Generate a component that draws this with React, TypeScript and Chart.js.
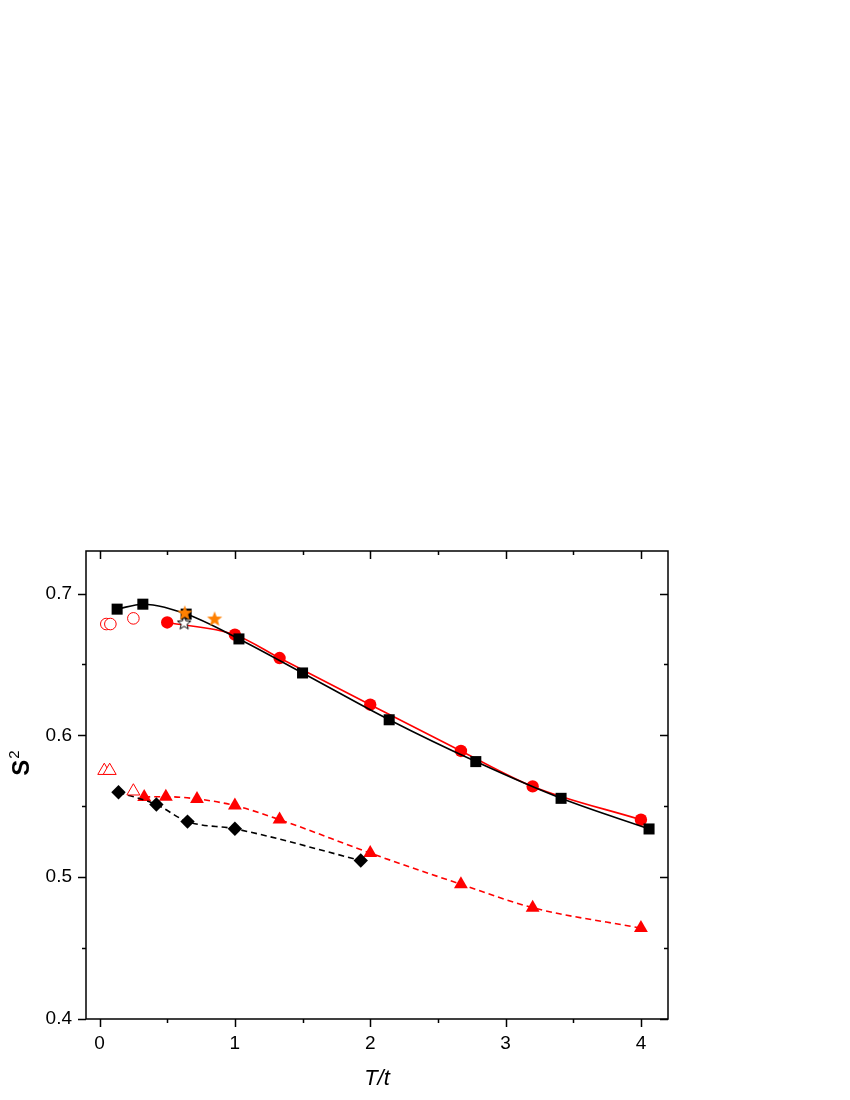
import React, { useEffect, useRef } from 'react';
import { Chart, registerables } from 'chart.js';
Chart.register(...registerables);

// ---- data ----
const squareX = [0.13, 0.32, 0.64, 1.03, 1.5, 2.14, 2.78, 3.41, 4.06];
const squareY = [0.689, 0.6925, 0.6855, 0.668, 0.644, 0.611, 0.5815, 0.5556, 0.534];
const circleX = [0.5, 1.0, 1.33, 2.0, 2.67, 3.2, 4.0];
const circleY = [0.6796, 0.671, 0.6545, 0.6216, 0.589, 0.564, 0.5405];
const openCircleX = [0.05, 0.08, 0.25];
const openCircleY = [0.6785, 0.6785, 0.6825];
const starX = [0.63, 0.85];
const starY = [0.6866, 0.6824];
const openStarX = [0.625];
const openStarY = [0.6796];
const triX = [0.33, 0.49, 0.72, 1.0, 1.33, 2.0, 2.67, 3.2, 4.0];
const triY = [0.5565, 0.5568, 0.5552, 0.5505, 0.5406, 0.517, 0.495, 0.4785, 0.4641];
const openTriX = [0.035, 0.075, 0.25];
const openTriY = [0.5751, 0.5751, 0.5606];
const diamondX = [0.14, 0.42, 0.65, 1.0, 1.93];
const diamondY = [0.5599, 0.5512, 0.5392, 0.5341, 0.5118];

const xTickLabels = ['0', '1', '2', '3', '4'];
const yTickLabels = ['0.4', '0.5', '0.6', '0.7'];
const xMin = -0.1;
const xMax = 4.2;
const yMin = 0.4;
const yMax = 0.73;
const yTitleMain = 'S';
const yTitleSup = '2';

const FONT = "'Liberation Sans', Arial, sans-serif";

const pts = (xs: number[], ys: number[]) => xs.map((x, i) => ({ x, y: ys[i] }));

function makeStar(fill: string, stroke: string, outer: number, inner: number) {
  const size = Math.ceil(outer * 2 + 4);
  const c = document.createElement('canvas');
  c.width = size;
  c.height = size;
  const g = c.getContext('2d')!;
  const cx = size / 2;
  const cy = size / 2 + 0.8;
  g.beginPath();
  for (let i = 0; i < 10; i++) {
    const r = i % 2 === 0 ? outer : inner;
    const a = -Math.PI / 2 + (i * Math.PI) / 5;
    const px = cx + r * Math.cos(a);
    const py = cy + r * Math.sin(a);
    if (i === 0) g.moveTo(px, py);
    else g.lineTo(px, py);
  }
  g.closePath();
  g.fillStyle = fill;
  g.fill();
  if (stroke) {
    g.strokeStyle = stroke;
    g.lineWidth = 1;
    g.stroke();
  }
  return c;
}

const isXLabel = (v: number) => xTickLabels.includes(String(v));
const yStr = (v: number) => String(Math.round(v * 100) / 100);
const isYLabel = (v: number) => yTickLabels.includes(yStr(v));

const framePlugin = {
  id: 'frameTicks',
  afterDraw(chart: any) {
    const { ctx, chartArea: a, scales } = chart;
    const x = scales.x;
    const y = scales.y;
    ctx.save();
    ctx.strokeStyle = '#000';
    ctx.lineWidth = 1.5;
    ctx.strokeRect(a.left, a.top, a.right - a.left, a.bottom - a.top);
    ctx.beginPath();
    x.ticks.forEach((t: any) => {
      const px = Math.round(x.getPixelForValue(t.value)) + 0.5;
      const len = isXLabel(t.value) ? 8 : 4;
      ctx.moveTo(px, a.bottom);
      ctx.lineTo(px, a.bottom + len);
      ctx.moveTo(px, a.top);
      ctx.lineTo(px, a.top + len);
    });
    y.ticks.forEach((t: any) => {
      const py = Math.round(y.getPixelForValue(t.value)) + 0.5;
      const len = isYLabel(t.value) ? 8 : 4;
      ctx.moveTo(a.left, py);
      ctx.lineTo(a.left - len, py);
      ctx.moveTo(a.right, py);
      ctx.lineTo(a.right - len, py);
    });
    ctx.stroke();

    // y-axis title "S" with superscript "2", rotated
    const cy = (a.top + a.bottom) / 2 - 22;
    ctx.translate(29, cy);
    ctx.rotate(-Math.PI / 2);
    ctx.fillStyle = '#000';
    ctx.textBaseline = 'alphabetic';
    ctx.textAlign = 'left';
    ctx.font = `bold 24px ${FONT}`;
    const wS = ctx.measureText(yTitleMain).width;
    ctx.font = `15px ${FONT}`;
    const w2 = ctx.measureText(yTitleSup).width;
    const start = -(wS + w2 + 1) / 2;
    ctx.font = `bold 24px ${FONT}`;
    ctx.fillText(yTitleMain, start, 0);
    ctx.font = `15px ${FONT}`;
    ctx.fillText(yTitleSup, start + wS + 1, -10);
    ctx.restore();
  },
};

export default function App() {
  const ref = useRef<HTMLCanvasElement>(null);

  useEffect(() => {
    if (!ref.current) return;
    const orangeStar = makeStar('#FF8000', '', 8, 3.4);
    const openStar = makeStar('#FFFFFF', '#000000', 7, 3);

    const chart = new Chart(ref.current, {
      type: 'scatter',
      data: {
        datasets: [
          {
            data: pts(starX, starY),
            pointStyle: orangeStar as any,
            showLine: false,
            order: 0,
          },
          {
            data: pts(openStarX, openStarY),
            pointStyle: openStar as any,
            showLine: false,
            order: 0,
          },
          {
            data: pts(squareX, squareY),
            showLine: true,
            borderColor: '#000',
            borderWidth: 1.6,
            cubicInterpolationMode: 'monotone',
            pointStyle: 'rect',
            pointRadius: 7.8,
            pointBackgroundColor: '#000',
            pointBorderColor: '#000',
            pointBorderWidth: 0,
            order: 1,
          },
          {
            data: pts(circleX, circleY),
            showLine: true,
            borderColor: '#FF0000',
            borderWidth: 1.6,
            cubicInterpolationMode: 'monotone',
            pointStyle: 'circle',
            pointRadius: 6.2,
            pointBackgroundColor: '#FF0000',
            pointBorderColor: '#FF0000',
            pointBorderWidth: 0,
            order: 2,
          },
          {
            data: pts(openCircleX, openCircleY),
            showLine: false,
            pointStyle: 'circle',
            pointRadius: 5.8,
            pointBackgroundColor: '#FFFFFF',
            pointBorderColor: '#FF0000',
            pointBorderWidth: 1,
            order: 2,
          },
          {
            data: pts(openTriX, openTriY),
            showLine: false,
            pointStyle: 'triangle',
            pointRadius: 7.5,
            pointBackgroundColor: '#FFFFFF',
            pointBorderColor: '#FF0000',
            pointBorderWidth: 1,
            order: 3,
          },
          {
            data: pts(diamondX, diamondY),
            showLine: true,
            borderColor: '#000',
            borderWidth: 1.6,
            borderDash: [6, 4],
            cubicInterpolationMode: 'monotone',
            pointStyle: 'rectRot',
            pointRadius: 7.2,
            pointBackgroundColor: '#000',
            pointBorderColor: '#000',
            pointBorderWidth: 0,
            order: 4,
          },
          {
            data: pts(triX, triY),
            showLine: true,
            borderColor: '#FF0000',
            borderWidth: 1.6,
            borderDash: [6, 4],
            cubicInterpolationMode: 'monotone',
            pointStyle: 'triangle',
            pointRadius: 8,
            pointBackgroundColor: '#FF0000',
            pointBorderColor: '#FF0000',
            pointBorderWidth: 0,
            order: 5,
          },
        ],
      },
      options: {
        responsive: false,
        animation: false,
        devicePixelRatio: 1,
        layout: { padding: { top: 551, right: 182, left: 0, bottom: 0 } },
        plugins: {
          legend: { display: false },
          tooltip: { enabled: false },
        },
        scales: {
          x: {
            type: 'linear',
            min: xMin,
            max: xMax,
            grid: { display: false, drawTicks: false },
            border: { display: false },
            ticks: {
              stepSize: 0.5,
              includeBounds: false,
              autoSkip: false,
              maxRotation: 0,
              padding: 13,
              color: '#000',
              font: { family: FONT, size: 19 },
              callback: (v: any) => (isXLabel(v) ? String(v) : ''),
            },
            title: {
              display: true,
              text: 'T/t',
              color: '#000',
              font: { family: FONT, size: 22, style: 'italic' },
              padding: { top: 0, bottom: 8 },
            },
            afterFit: (s: any) => {
              s.height = 81;
            },
          },
          y: {
            type: 'linear',
            min: yMin,
            max: yMax,
            grid: { display: false, drawTicks: false },
            border: { display: false },
            ticks: {
              stepSize: 0.05,
              includeBounds: false,
              autoSkip: false,
              padding: 14,
              color: '#000',
              font: { family: FONT, size: 19 },
              callback: (v: any) => (isYLabel(v) ? yStr(v) : ''),
            },
            title: { display: false },
            afterFit: (s: any) => {
              s.width = 86;
            },
          },
        },
      },
      plugins: [framePlugin],
    });
    return () => chart.destroy();
  }, []);

  return (
    <div style={{ position: 'absolute', left: 0, top: 0, width: 850, height: 1100, background: '#fff' }}>
      <canvas ref={ref} width={850} height={1100} style={{ display: 'block', width: 850, height: 1100 }} />
    </div>
  );
}
